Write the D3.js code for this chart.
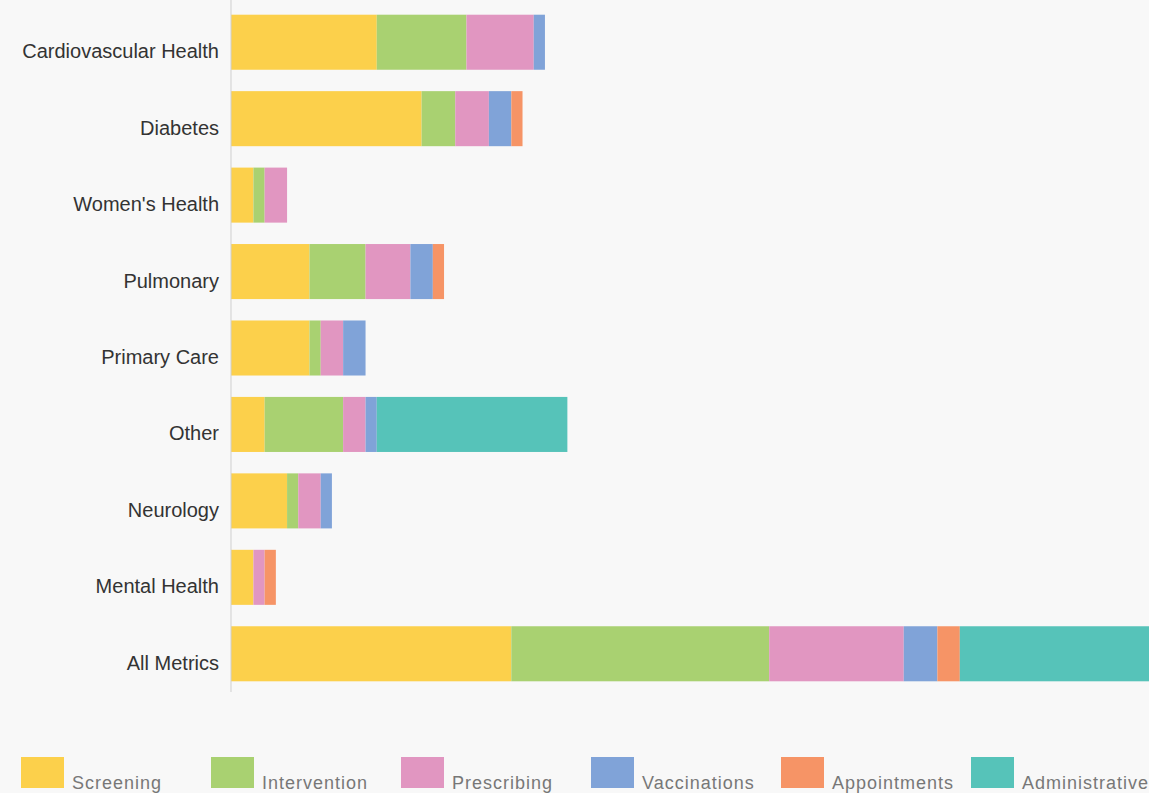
<!DOCTYPE html>
<html>
<head>
<meta charset="utf-8">
<script src="https://cdn.jsdelivr.net/npm/d3@7"></script>
<style>
  body { margin: 0; background: #f8f8f8; }
  svg { display: block; font-family: "Liberation Sans", Arial, Helvetica, sans-serif; }
</style>
</head>
<body>
<svg id="chart"></svg>
<script>
const width = 1149;
const height = 793;

// categories, top to bottom
const categories = [
  "Cardiovascular Health",
  "Diabetes",
  "Women's Health",
  "Pulmonary",
  "Primary Care",
  "Other",
  "Neurology",
  "Mental Health",
  "All Metrics",
];

const seriesNames = [
  "Screening",
  "Intervention",
  "Prescribing",
  "Vaccinations",
  "Appointments",
  "Administrative",
];

const colors = ["#fcd04b", "#a9d171", "#e196c1", "#80a3d8", "#f69466", "#56c3b9"];

// metric counts per category, one array per series
const screening      = [13, 17, 2, 7, 7, 3, 5, 2, 25];
const intervention   = [8, 3, 1, 5, 1, 7, 1, 0, 23];
const prescribing    = [6, 3, 2, 4, 2, 2, 2, 1, 12];
const vaccinations   = [1, 2, 0, 2, 2, 1, 1, 0, 3];
const appointments   = [0, 1, 0, 1, 0, 0, 0, 1, 2];
const administrative = [0, 0, 0, 0, 0, 17, 0, 0, 17];

const seriesValues = [screening, intervention, prescribing, vaccinations, appointments, administrative];

const rows = categories.map((c, i) => {
  const row = { category: c };
  seriesNames.forEach((s, j) => (row[s] = seriesValues[j][i]));
  return row;
});

const margin = { left: 231, top: 4, right: 0 };
const plotH = 688;

const svg = d3.select("#chart").attr("width", width).attr("height", height);

const x = d3.scaleLinear().domain([0, 80]).range([margin.left, margin.left + 897]);
const y = d3
  .scaleBand()
  .domain(categories)
  .range([margin.top, margin.top + plotH])
  .paddingInner(0.28)
  .paddingOuter(0.14);

const stacked = d3.stack().keys(seriesNames)(rows);

// bars
svg
  .append("g")
  .selectAll("g")
  .data(stacked)
  .enter()
  .append("g")
  .attr("fill", (d, i) => colors[i])
  .selectAll("rect")
  .data((d) => d)
  .enter()
  .append("rect")
  .attr("x", (d) => x(d[0]))
  .attr("y", (d) => y(d.data.category))
  .attr("width", (d) => x(d[1]) - x(d[0]))
  .attr("height", y.bandwidth());

// y axis
const yAxis = svg
  .append("g")
  .attr("transform", "translate(" + margin.left + ",0)")
  .call(d3.axisLeft(y).tickSize(0).tickPadding(12));
yAxis.select(".domain").attr("stroke", "#cfcfcf").attr("d", "M0,0V" + (margin.top + plotH));
yAxis
  .selectAll("text")
  .attr("font-size", 20)
  .attr("fill", "#333")
  .attr("dy", "0.8em");

// legend
const legend = svg
  .append("g")
  .selectAll("g")
  .data(seriesNames)
  .enter()
  .append("g")
  .attr("transform", (d, i) => "translate(" + (21 + i * 190) + ",757)");
legend
  .append("rect")
  .attr("width", 43)
  .attr("height", 31)
  .attr("fill", (d, i) => colors[i]);
legend
  .append("text")
  .attr("x", 51)
  .attr("y", 32)
  .attr("font-size", 18)
  .attr("letter-spacing", 1)
  .attr("fill", "#777")
  .text((d) => d);
</script>
</body>
</html>
